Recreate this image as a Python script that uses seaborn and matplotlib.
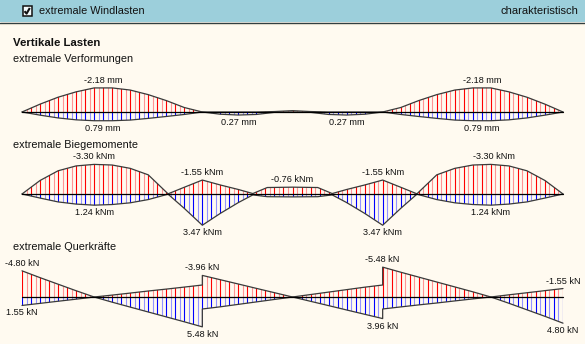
import numpy as np
import matplotlib
matplotlib.use("Agg")
import matplotlib.pyplot as plt
from matplotlib.patches import Rectangle
from matplotlib.lines import Line2D
import seaborn as sns

# ---------------- data ----------------
span_ends = [0.0, 15.0]          # beam from first to last support [m]

# deflections [mm]
defl_x = [0, 0.5, 1, 1.5, 2, 2.5, 3, 3.5, 4, 4.5, 5,
          5.5, 6, 6.5, 7, 7.5, 8, 8.5, 9, 9.5, 10,
          10.5, 11, 11.5, 12, 12.5, 13, 13.5, 14, 14.5, 15]
defl_min = [0, -0.7, -1.32, -1.8, -2.15, -2.15, -1.96, -1.55, -1.02, -0.4, 0,
            0, 0, 0, -0.04, -0.12, -0.04, 0, 0, 0, 0,
            -0.4, -1.02, -1.55, -1.96, -2.15, -2.15, -1.8, -1.32, -0.7, 0]
defl_max = [0, 0.28, 0.53, 0.70, 0.78, 0.78, 0.72, 0.57, 0.40, 0.22, 0,
            0.20, 0.27, 0.22, 0.03, 0, 0.03, 0.22, 0.27, 0.20, 0,
            0.22, 0.40, 0.57, 0.72, 0.78, 0.78, 0.70, 0.53, 0.28, 0]
defl_lab_s = [2.25, 12.75, 2.25, 12.75, 6.0, 9.0]
defl_lab_v = [-2.18, -2.18, 0.79, 0.79, 0.27, 0.27]

# bending moments [kNm]
mom_x = [0, 0.5, 1, 1.5, 2, 2.5, 3, 3.5, 4.05, 4.5, 5,
         5.5, 6, 6.4, 6.8, 7.5, 8.2, 8.6, 9, 9.5, 10,
         10.5, 10.95, 11.5, 12, 12.5, 13, 13.5, 14, 14.5, 15]
mom_min = [0, -1.5, -2.58, -3.12, -3.29, -3.22, -2.85, -2.13, -0.02, -0.75, -1.55,
           -1.0, -0.5, -0.05, -0.72, -0.76, -0.72, -0.05, -0.5, -1.0, -1.55,
           -0.75, -0.02, -2.13, -2.85, -3.22, -3.29, -3.12, -2.58, -1.5, 0]
mom_max = [0, 0.45, 0.88, 1.12, 1.24, 1.17, 0.98, 0.62, 0.02, 1.6, 3.47,
           2.15, 0.95, 0.1, 0.3, 0.32, 0.3, 0.1, 0.95, 2.15, 3.47,
           1.6, 0.02, 0.62, 0.98, 1.17, 1.24, 1.12, 0.88, 0.45, 0]
mom_lab_s = [2.0, 13.1, 2.0, 13.0, 5, 10, 5, 10, 7.5]
mom_lab_v = [-3.30, -3.30, 1.24, 1.24, -1.55, -1.55, 3.47, 3.47, -0.76]

# shear forces [kN] (jumps at the inner supports)
shear_x = [0, 0.5, 1, 1.5, 2, 2.5, 3, 3.5, 4, 4.5, 5, 5,
           5.5, 6, 6.5, 7, 7.5, 8, 8.5, 9, 9.5, 10, 10,
           10.5, 11, 11.5, 12, 12.5, 13, 13.5, 14, 14.5, 15]
shear_min = [-4.80, -3.55, -2.35, -1.15, 0, -0.35, -0.72, -1.1, -1.45, -1.82, -2.2, -3.96,
             -3.17, -2.38, -1.58, -0.79, 0, -0.45, -0.9, -1.35, -1.8, -2.2, -5.48,
             -4.55, -3.65, -2.75, -1.85, -0.95, 0, -0.4, -0.78, -1.17, -1.55]
shear_max = [1.55, 1.17, 0.78, 0.4, 0, 0.95, 1.85, 2.75, 3.65, 4.55, 5.48, 2.2,
             1.8, 1.35, 0.9, 0.45, 0, 0.79, 1.58, 2.38, 3.17, 3.96, 2.2,
             1.82, 1.45, 1.1, 0.72, 0.35, 0, 1.15, 2.35, 3.55, 4.80]
shear_lab_s = [0, 0, 5, 5, 10, 10, 15, 15]
shear_lab_v = [-4.80, 1.55, -3.96, 5.48, -5.48, 3.96, -1.55, 4.80]

# ---------------- style ----------------
W, H = 585, 344
BG = "#fffaf0"
HEAD = "#9ccfdb"
RED_D, RED_L = "#ff0000", "#ff9494"
BLUE_D, BLUE_L = "#0000ff", "#9494ff"
OUT = "#3a3a3a"
TXT = "#111111"

sns.set_theme(style="white")
plt.rcParams["font.family"] = ["Liberation Sans", "DejaVu Sans"]

fig = plt.figure(figsize=(W / 100, H / 100), dpi=100, facecolor=BG)

X0, PXM = 22.0, (563.0 - 22.0) / 15.0   # pixel of first support, pixels per metre


def fx(px):
    return px / W


def fy(py):
    return 1 - py / H


# header bar
fig.patches.append(Rectangle((0, fy(22)), 1, 22 / H, transform=fig.transFigure,
                             facecolor=HEAD, edgecolor="none", zorder=0))
fig.lines.append(Line2D([0, 1], [fy(22.5), fy(22.5)], transform=fig.transFigure,
                        color="#27363a", lw=1.0))
fig.lines.append(Line2D([0, 1], [fy(23.6), fy(23.6)], transform=fig.transFigure,
                        color="#dcd6c8", lw=0.8))
# checkbox
fig.patches.append(Rectangle((fx(22.5), fy(16)), 9.5 / W, 9.5 / H, transform=fig.transFigure,
                             facecolor="#f4fbfc", edgecolor="#111111", lw=1.1))
fig.lines.append(Line2D([fx(24.5), fx(26.6), fx(29.8)], [fy(11.2), fy(13.6), fy(8.0)],
                        transform=fig.transFigure, color="#111111", lw=1.5,
                        solid_capstyle="butt"))
fig.text(fx(39), fy(11), "extremale Windlasten", fontsize=7.8, color=TXT,
         ha="left", va="center")
fig.text(fx(578), fy(11), "charakteristisch", fontsize=8.0, color=TXT,
         ha="right", va="center")

fig.text(fx(13), fy(42.5), "Vertikale Lasten", fontsize=8.2, fontweight="bold",
         color=TXT, ha="left", va="center")
fig.text(fx(13), fy(59), "extremale Verformungen", fontsize=7.8, color=TXT,
         ha="left", va="center")
fig.text(fx(13), fy(145), "extremale Biegemomente", fontsize=7.8, color=TXT,
         ha="left", va="center")
fig.text(fx(13), fy(247.5), "extremale Querkräfte", fontsize=7.8, color=TXT,
         ha="left", va="center")

hatch_x = np.arange(span_ends[0], span_ends[1] + 1e-9, 0.125)


def make_axes(top, bottom, baseline, scale):
    ax = fig.add_axes([0, fy(bottom), 1, (bottom - top) / H])
    ax.set_facecolor("none")
    ax.set_xlim((0 - X0) / PXM, (W - X0) / PXM)
    ax.set_ylim((bottom - baseline) / scale, -(baseline - top) / scale)
    ax.axis("off")
    return ax


def envelope(ax, x, y, dark, light):
    lo, hi = ax.get_ylim()
    poly = ax.fill_between(x, 0, y, facecolor="none", edgecolor="none", linewidth=0)
    path = poly.get_paths()[0]
    cols = [dark if i % 2 == 0 else light for i in range(len(hatch_x))]
    lc = ax.vlines(hatch_x, hi, lo, colors=cols, linewidth=0.8, zorder=1)
    lc.set_clip_path(path, ax.transData)
    sns.lineplot(x=x, y=y, ax=ax, color=OUT, lw=0.9, estimator=None, sort=False,
                 legend=False, zorder=2)


def labels(ax, ss, vs, unit):
    for s, v in zip(ss, vs):
        off = 5.4 if v < 0 else -5.4
        ax.annotate(f"{v:.2f} {unit}", xy=(s, v), xytext=(0, off),
                    textcoords="offset points", ha="center", va="center",
                    fontsize=6.6, color=TXT, annotation_clip=False)


def diagram(top, bottom, baseline, scale, x, ymin, ymax, ls, lv, unit):
    ax = make_axes(top, bottom, baseline, scale)
    lims = ax.get_xlim(), ax.get_ylim()
    envelope(ax, x, ymin, RED_D, RED_L)
    envelope(ax, x, ymax, BLUE_D, BLUE_L)
    ax.plot(span_ends, [0, 0], color="#000000", lw=0.9, zorder=3)
    ax.set_xlim(lims[0])
    ax.set_ylim(lims[1])
    labels(ax, ls, lv, unit)
    return ax


diagram(64, 140, 112, 11.2, defl_x, defl_min, defl_max, defl_lab_s, defl_lab_v, "mm")
diagram(150, 240, 194, 9.0, mom_x, mom_min, mom_max, mom_lab_s, mom_lab_v, "kNm")
diagram(254, 344, 297, 5.45, shear_x, shear_min, shear_max, shear_lab_s, shear_lab_v, "kN")

fig.savefig("out.png", dpi=100, facecolor=BG)
